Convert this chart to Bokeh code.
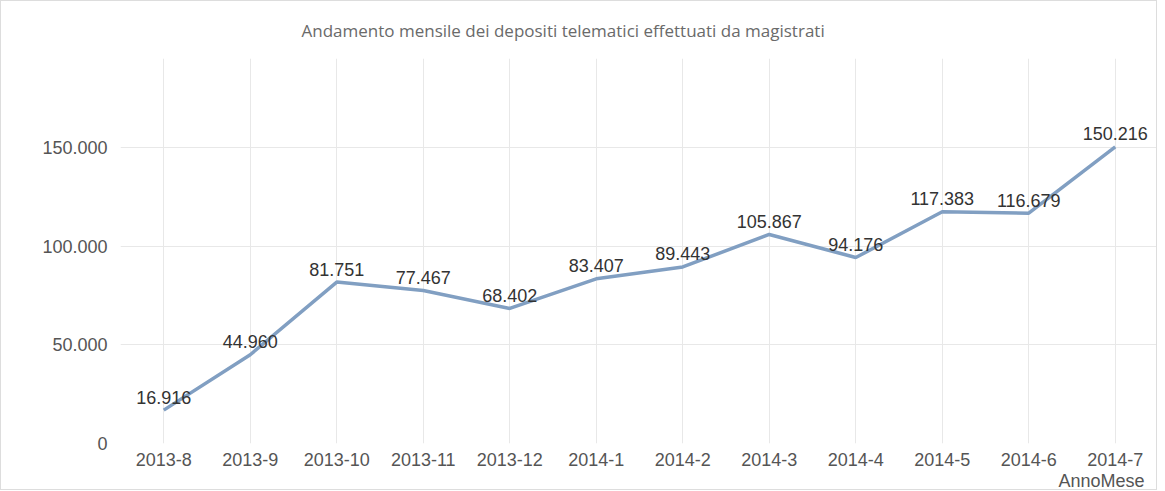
from bokeh.plotting import figure
from bokeh.models import ColumnDataSource, FixedTicker, LabelSet, Title
from bokeh.core.properties import value
from bokeh.embed import file_html
from bokeh.resources import INLINE

months = ["2013-8", "2013-9", "2013-10", "2013-11", "2013-12", "2014-1",
          "2014-2", "2014-3", "2014-4", "2014-5", "2014-6", "2014-7"]
deposits = [16916, 44960, 81751, 77467, 68402, 83407,
            89443, 105867, 94176, 117383, 116679, 150216]
y_ticks = [0, 50000, 100000, 150000]
y_tick_labels = ["0", "50.000", "100.000", "150.000"]

def it_fmt(v):
    return f"{v:,}".replace(",", ".")

src = ColumnDataSource(dict(x=months, y=deposits, lab=[it_fmt(v) for v in deposits]))

p = figure(x_range=months, y_range=(0, 195000), width=1157, height=490,
           output_backend="svg", toolbar_location=None,
           title="Andamento mensile dei depositi telematici effettuati da magistrati",
           min_border_left=119, min_border_right=0, min_border_top=57, min_border_bottom=48)
p.x_range.range_padding = 0
p.title.align = "left"
p.title.offset = 181
p.title.vertical_align = "top"
p.title.text_font = "Open Sans"
p.title.text_font_style = "normal"
p.title.text_font_size = "17px"
p.title.text_color = "#6a6a6a"
p.title.standoff = 30
p.outline_line_color = None
p.styles = {"border": "1px solid #dddddd"}

p.line("x", "y", source=src, line_color="#819fc2", line_width=3.5)

labels = LabelSet(x="x", y="y", text="lab", source=src, text_align="center",
                  text_baseline="middle", y_offset=13, text_font_size="18px",
                  text_color="#333333", text_font=value("Liberation Sans"))
p.add_layout(labels)

p.yaxis.ticker = FixedTicker(ticks=y_ticks)
p.yaxis.major_label_overrides = {t: l for t, l in zip(y_ticks, y_tick_labels)}
for ax in (p.xaxis, p.yaxis):
    ax.axis_line_color = None
    ax.major_tick_line_color = None
    ax.minor_tick_line_color = None
    ax.major_tick_out = 0
    ax.major_tick_in = 0
    ax.major_label_text_font = "Liberation Sans"
    ax.major_label_text_font_size = "18px"
    ax.major_label_text_color = "#555555"
p.yaxis.major_label_standoff = 13
p.xaxis.major_label_standoff = 9

anno = Title(text="AnnoMese", align="right", offset=14, standoff=0,
             text_font="Liberation Sans", text_font_style="normal",
             text_font_size="18px", text_color="#555555")
p.add_layout(anno, "below")

p.xgrid.grid_line_color = "#e8e8e8"
p.ygrid.grid_line_color = "#e8e8e8"
p.ygrid.ticker = FixedTicker(ticks=y_ticks)

open("out.html", "w").write(file_html(p, INLINE))
